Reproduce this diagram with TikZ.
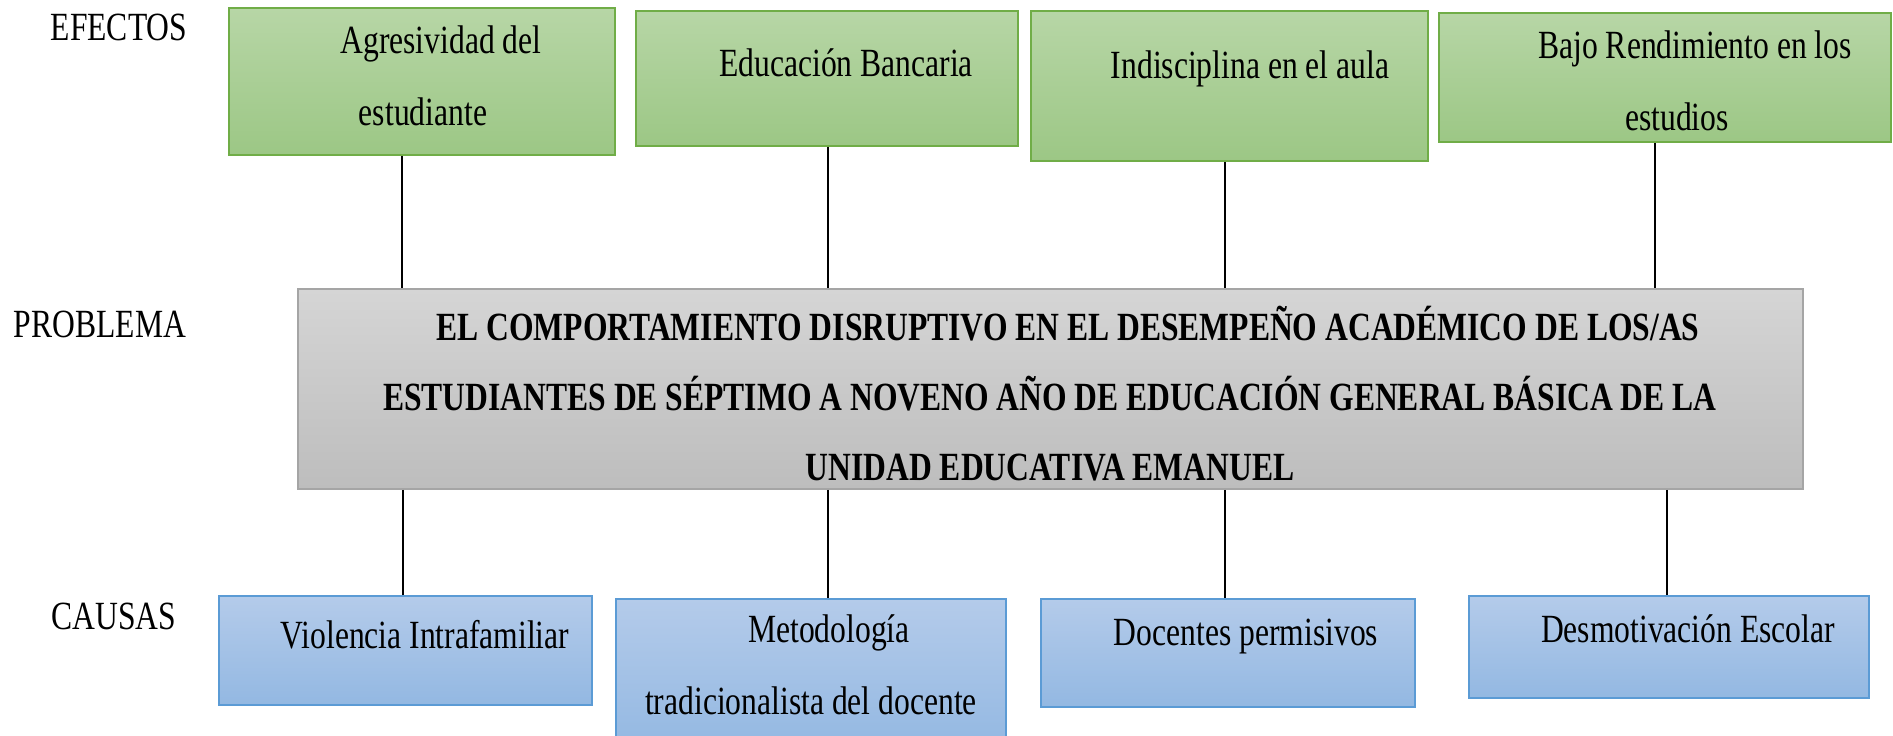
\documentclass[tikz,border=0pt]{standalone}
\usepackage{fontspec}
\setmainfont{Liberation Serif}[FakeStretch=0.79]

\definecolor{verdeA}{RGB}{183,214,166}
\definecolor{verdeB}{RGB}{156,199,133}
\definecolor{verdeBorde}{RGB}{112,173,71}
\definecolor{azulA}{RGB}{180,203,234}
\definecolor{azulB}{RGB}{147,184,226}
\definecolor{azulBorde}{RGB}{91,155,213}
\definecolor{grisA}{RGB}{213,213,213}
\definecolor{grisB}{RGB}{189,189,189}
\definecolor{grisBorde}{RGB}{165,165,165}

\tikzset{
  caja/.style={draw, line width=1.5pt, inner sep=0pt},
  efecto/.style={caja, draw=verdeBorde, top color=verdeA, bottom color=verdeB},
  causa/.style={caja, draw=azulBorde, top color=azulA, bottom color=azulB},
  problema/.style={caja, draw=grisBorde, top color=grisA, bottom color=grisB},
  texto/.style={align=center, inner sep=0pt, font=\fontsize{40}{72}\selectfont},
  linea/.style={line width=1.2pt, black},
}
\newcommand{\sangria}{\hspace*{36pt}}

\begin{document}
\begin{tikzpicture}[x=1pt, y=-1pt]
\useasboundingbox (0,0) rectangle (1893,736);
\clip (0,0) rectangle (1893,736);

% efectos
\node[efecto, minimum width=386pt, minimum height=147pt] (e1) at (422,81.5) {};
\node[efecto, minimum width=382pt, minimum height=135pt] (e2) at (827,78.5) {};
\node[efecto, minimum width=397pt, minimum height=150pt] (e3) at (1229.5,86) {};
\node[efecto, minimum width=452pt, minimum height=129pt] (e4) at (1665,77.5) {};

% problema
\node[problema, minimum width=1505pt, minimum height=200pt] (prob) at (1050.5,389) {};

% causas
\node[causa, minimum width=373pt, minimum height=109pt] (c1) at (405.5,650.5) {};
\node[causa, minimum width=390pt, minimum height=151pt] (c2) at (811,674.5) {};
\node[causa, minimum width=374pt, minimum height=108pt] (c3) at (1228,653) {};
\node[causa, minimum width=400pt, minimum height=102pt] (c4) at (1669,647) {};

% lineas
\foreach \n/\x in {1/402,2/828,3/1225,4/1655}
  \draw[linea] (e\n.south -| \x,0) -- (prob.north -| \x,0);
\foreach \n/\x in {1/403,2/828,3/1225,4/1667}
  \draw[linea] (prob.south -| \x,0) -- (c\n.north -| \x,0);

% rotulos
\node[texto] at (119,27) (lefectos) {EFECTOS};
\node[texto] at (100,324) (lproblema) {PROBLEMA};
\node[texto] at (114,616) (lcausas) {CAUSAS};

\node[texto] at (423,76) (e1t) {\sangria Agresividad del\\estudiante};
\node[texto] at (828,63) (e2t) {\sangria Educación Bancaria};
\node[texto] at (1232,69) (e3t) {\sangria Indisciplina en el aula};
\node[texto] at (1677,81) (e4t) {\sangria Bajo Rendimiento en los\\estudios};

\node[texto, font=\fontsize{40}{70}\selectfont\bfseries] at (1050,394) (probt)
  {\sangria EL COMPORTAMIENTO DISRUPTIVO EN EL DESEMPEÑO ACADÉMICO DE LOS/AS\\
   ESTUDIANTES DE SÉPTIMO A NOVENO AÑO DE EDUCACIÓN GENERAL BÁSICA DE LA\\
   UNIDAD EDUCATIVA EMANUEL};

\node[texto] at (407,635) (c1t) {\sangria Violencia Intrafamiliar};
\node[texto] at (811,665) (c2t) {\sangria Metodología\\tradicionalista del docente};
\node[texto] at (1228,637) (c3t) {\sangria Docentes permisivos};
\node[texto] at (1670,629) (c4t) {\sangria Desmotivación Escolar};

\end{tikzpicture}
\end{document}
